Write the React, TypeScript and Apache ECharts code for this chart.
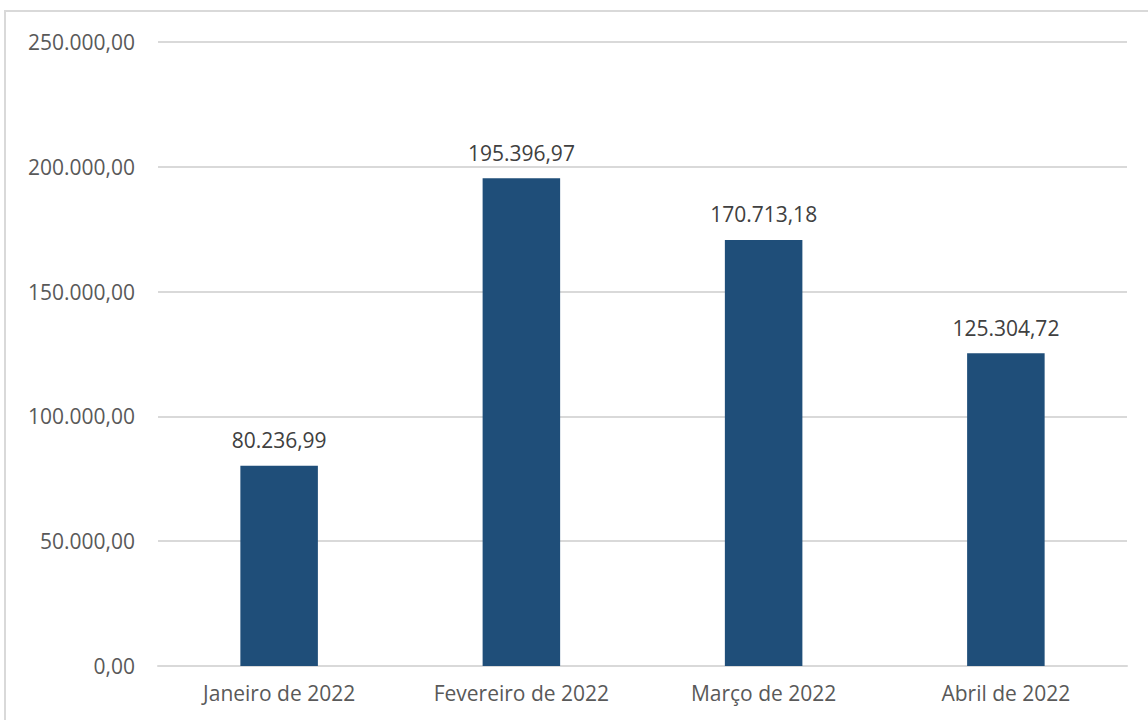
import React, { useEffect, useRef } from "react";
import * as echarts from "echarts";

const categories = ["Janeiro de 2022", "Fevereiro de 2022", "Março de 2022", "Abril de 2022"];
const values = [80236.99, 195396.97, 170713.18, 125304.72];
const yTicks = { min: 0, max: 250000, interval: 50000 };

function fmt(v: number): string {
  const fixed = Math.abs(v).toFixed(2);
  const [intPart, dec] = fixed.split(".");
  const withDots = intPart.replace(/\B(?=(\d{3})+(?!\d))/g, ".");
  return (v < 0 ? "-" : "") + withDots + "," + dec;
}

export default function App() {
  const ref = useRef<HTMLDivElement>(null);
  useEffect(() => {
    if (!ref.current) return;
    const chart = echarts.init(ref.current, null, { renderer: "svg" });
    const font = "'Open Sans', 'Noto Sans', sans-serif";
    chart.setOption({
      animation: false,
      backgroundColor: "#ffffff",
      graphic: [
        {
          type: "rect",
          shape: { x: 5, y: 11, width: 1200, height: 800 },
          style: { fill: "none", stroke: "#d9d9d9", lineWidth: 2 },
          z: -1,
        },
      ],
      grid: { left: 158, right: 21, top: 42, bottom: 54, containLabel: false },
      xAxis: {
        type: "category",
        data: categories,
        axisLine: { show: true, lineStyle: { color: "#d9d9d9", width: 2 } },
        axisTick: { show: false },
        axisLabel: { color: "#595959", fontSize: 21, fontFamily: font, margin: 16 },
      },
      yAxis: {
        type: "value",
        min: yTicks.min,
        max: yTicks.max,
        interval: yTicks.interval,
        axisLine: { show: false },
        axisTick: { show: false },
        splitLine: { lineStyle: { color: "#d9d9d9", width: 2 } },
        axisLabel: {
          color: "#595959",
          fontSize: 21,
          fontFamily: font,
          margin: 23,
          formatter: (v: number) => fmt(v),
        },
      },
      series: [
        {
          type: "bar",
          data: values,
          barWidth: "32%",
          itemStyle: { color: "#1F4E79" },
          label: {
            show: true,
            position: "top",
            distance: 15,
            color: "#404040",
            fontSize: 21,
            fontFamily: font,
            formatter: (p: any) => fmt(p.value),
          },
        },
      ],
    });
    return () => chart.dispose();
  }, []);
  return (
    <div
      ref={ref}
      style={{ position: "absolute", left: 0, top: 0, width: 1148, height: 720 }}
    />
  );
}
